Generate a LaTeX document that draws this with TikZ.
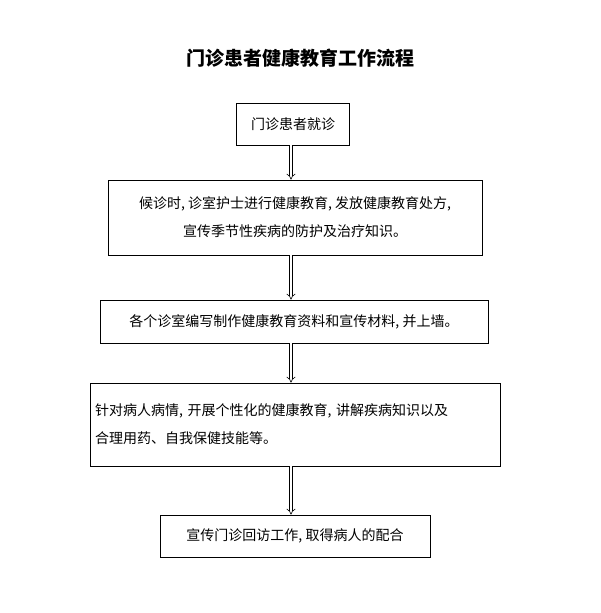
\documentclass[tikz,border=0pt]{standalone}
\usepackage{fontspec}
\newfontfamily\cjk{Noto Sans CJK SC}
\usetikzlibrary{arrows.meta,positioning}
\tikzset{
every picture/.style={
line width=0.8pt
},
stage/.style={
  draw, inner sep=4pt, font=\cjk\fontsize{14}{28}\selectfont
},
flow/.style={
  double, double distance=2.5pt, line width=0.6pt, -{Implies}
}}
\begin{document}
\begin{tikzpicture}[x=1pt,y=-1pt]
\useasboundingbox (0,0) rectangle (600,613);

\node [font=\cjk\bfseries\fontsize{19}{22}\selectfont] at (300,58) (title) {门诊患者健康教育工作流程};

\node [stage, minimum width=113, minimum height=42] at (293,124) (s1) {门诊患者就诊};
\node [stage, minimum width=374, minimum height=75, align=center] at (295,217.5) (s2)
  {候诊时, 诊室护士进行健康教育, 发放健康教育处方,\\宣传季节性疾病的防护及治疗知识。};
\node [stage, minimum width=388, minimum height=43] at (294,321.5) (s3)
  {各个诊室编写制作健康教育资料和宣传材料, 并上墙。};
\node [stage, minimum width=410, minimum height=83, text width=400, align=left] at (295,424.5) (s4)
  {针对病人病情, 开展个性化的健康教育, 讲解疾病知识以及\\合理用药、自我保健技能等。};
\node [stage, minimum width=270, minimum height=42] at (295,536) (s5)
  {宣传门诊回访工作, 取得病人的配合};

\foreach \a/\b in {s1/s2,s2/s3,s3/s4,s4/s5}
  \draw [flow] (\a.south -| 291,0) -- (\b.north -| 291,0);

\end{tikzpicture}
\end{document}
